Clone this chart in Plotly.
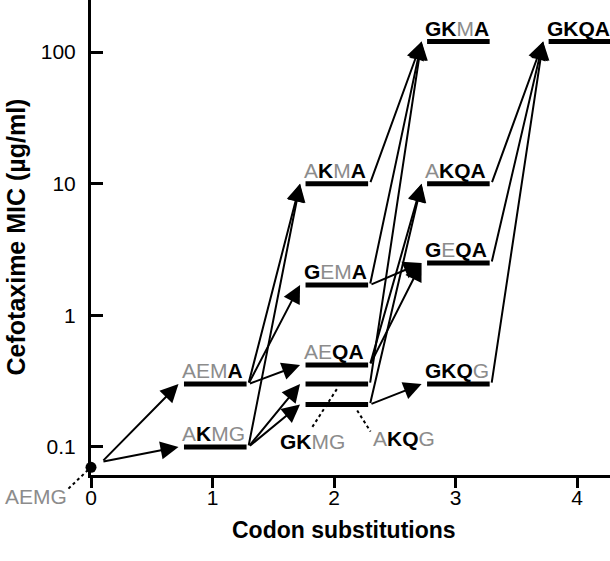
import math
import plotly.graph_objects as go

# ---------------- data ----------------
genotypes = ["AEMG", "AEMA", "AKMG", "AKMA", "GEMA", "AEQA", "GKMG", "AKQG",
             "GKMA", "AKQA", "GEQA", "GKQG", "GKQA"]
substitutions = [0, 1, 1, 2, 2, 2, 2, 2, 3, 3, 3, 3, 4]
mic = [0.07, 0.3, 0.1, 10, 1.7, 0.42, 0.3, 0.21, 120, 10, 2.5, 0.3, 120]
wild_type = "AEMG"

edge_from = ["AEMG", "AEMG",
             "AEMA", "AEMA", "AEMA", "AKMG", "AKMG", "AKMG",
             "AKMA", "GEMA", "GKMG", "GEMA", "AEQA", "AEQA", "AKQG", "AKQG",
             "AKQA", "GEQA", "GKQG"]
edge_to = ["AEMA", "AKMG",
           "AKMA", "GEMA", "AEQA", "AKMA", "GKMG", "AKQG",
           "GKMA", "GKMA", "GKMA", "GEQA", "GEQA", "AKQA", "AKQA", "GKQG",
           "GKQA", "GKQA", "GKQA"]

x_ticks = [0, 1, 2, 3, 4]
y_ticks = [0.1, 1, 10, 100]
y_tick_text = ["0.1", "1", "10", "100"]

# labels drawn below their bar with a dotted leader
below_labels = ["GKMG", "AKQG"]

# ---------------- style ----------------
GREY = "#8c8c8c"
FONT = "Liberation Sans, Arial, Helvetica, sans-serif"
BAR_L, BAR_R = -0.235, 0.28
TIP_GAP, TAIL_GAP = 0.045, 0.015
XR = [0, 4.27]
YR = [math.log10(0.0612), 2.395]

idx = {g: i for i, g in enumerate(genotypes)}


def styled(g):
    out = ""
    for i, c in enumerate(g):
        if c == wild_type[i]:
            out += f'<span style="color:{GREY}">{c}</span>'
        else:
            out += f"<b>{c}</b>"
    return out


fig = go.Figure()

# bars
bx, by = [], []
for g, n, v in zip(genotypes, substitutions, mic):
    if n == 0:
        continue
    bx += [n + BAR_L, n + BAR_R, None]
    by += [v, v, None]
fig.add_trace(go.Scatter(x=bx, y=by, mode="lines",
                         line=dict(color="black", width=5),
                         hoverinfo="skip", showlegend=False))

# starting genotype dot
i0 = idx[wild_type]
fig.add_trace(go.Scatter(x=[substitutions[i0]], y=[mic[i0]], mode="markers",
                         marker=dict(color="black", size=11),
                         cliponaxis=False, hoverinfo="skip", showlegend=False))

annotations = []

# arrows
for s, t in zip(edge_from, edge_to):
    si, ti = idx[s], idx[t]
    if substitutions[si] == 0:
        tx, ty = substitutions[si] + 0.09, mic[si] * 1.1
    else:
        tx, ty = substitutions[si] + BAR_R + TAIL_GAP, mic[si]
    hx, hy = substitutions[ti] + BAR_L - TIP_GAP, mic[ti]
    annotations.append(dict(x=hx, y=math.log10(hy), ax=tx, ay=math.log10(ty),
                            xref="x", yref="y", axref="x", ayref="y",
                            text="", showarrow=True, arrowhead=2,
                            arrowsize=1.8, arrowwidth=2, arrowcolor="black",
                            standoff=0, startstandoff=0))

# labels above bars
for g, n, v in zip(genotypes, substitutions, mic):
    if n == 0 or g in below_labels:
        continue
    annotations.append(dict(x=n + BAR_L, y=math.log10(v), xref="x", yref="y",
                            text=styled(g), showarrow=False,
                            xanchor="left", yanchor="bottom",
                            xshift=-4, yshift=0,
                            font=dict(family=FONT, size=21, color="black")))

# dotted leaders for labels below bars
leaders = {"GKMG": ((0.0225, 0.916), (-0.18, 0.471)),
           "AKQG": ((0.19, 0.90), (0.30, 0.623))}
for g in below_labels:
    i = idx[g]
    n, v = substitutions[i], mic[i]
    (dx0, f0), (dx1, f1) = leaders[g]
    fig.add_trace(go.Scatter(x=[n + dx0, n + dx1], y=[v * f0, v * f1],
                             mode="lines",
                             line=dict(color="black", width=2, dash="dot"),
                             hoverinfo="skip", showlegend=False))
    if g == "GKMG":
        annotations.append(dict(x=n + dx1, y=math.log10(v * f1), xref="x", yref="y",
                                text=styled(g), showarrow=False,
                                xanchor="center", yanchor="top", yshift=-1,
                                font=dict(family=FONT, size=21, color="black")))
    else:
        annotations.append(dict(x=n + dx1, y=math.log10(v * f1), xref="x", yref="y",
                                text=styled(g), showarrow=False,
                                xanchor="left", yanchor="middle", yshift=-7,
                                font=dict(family=FONT, size=21, color="black")))

# wild-type label (outside the plot area) with dotted leader
W, H = 519, 475
fig.add_shape(type="line", xref="paper", yref="paper",
              x0=(88 - 91) / W, y0=(475 - 470) / H,
              x1=(67 - 91) / W, y1=(475 - 490) / H,
              line=dict(color="black", width=2, dash="dot"))
annotations.append(dict(x=0, y=0, xref="paper", yref="paper",
                        text=f'<span style="color:{GREY}">{wild_type}</span>',
                        showarrow=False, xanchor="right", yanchor="middle",
                        xshift=-22, yshift=-21,
                        font=dict(family=FONT, size=21, color=GREY)))

# axis titles
annotations.append(dict(x=0.5, y=0, xref="paper", yref="paper",
                        text="<b>Codon substitutions</b>", showarrow=False,
                        xanchor="center", yanchor="middle", yshift=-55, xshift=-7,
                        font=dict(family=FONT, size=23, color="black")))
annotations.append(dict(x=0, y=0.5, xref="paper", yref="paper",
                        text="<b>Cefotaxime MIC (µg/ml)</b>", showarrow=False,
                        textangle=-90, xanchor="center", yanchor="middle",
                        xshift=-76,
                        font=dict(family=FONT, size=25, color="black")))

fig.update_layout(
    width=610, height=561,
    margin=dict(l=91, r=0, t=0, b=86),
    paper_bgcolor="white", plot_bgcolor="white",
    annotations=annotations,
    showlegend=False,
    xaxis=dict(range=XR, showline=True, linewidth=3, linecolor="black",
               ticks="outside", ticklen=10, tickwidth=3, tickcolor="black",
               tickvals=x_ticks, showgrid=False, zeroline=False,
               ticklabelstandoff=-8,
               tickfont=dict(family=FONT, size=21, color="black")),
    yaxis=dict(type="log", range=YR, showline=True, linewidth=3, linecolor="black",
               ticks="inside", ticklen=12, tickwidth=3, tickcolor="black",
               tickvals=y_ticks, ticktext=y_tick_text, showgrid=False,
               zeroline=False, ticklabelstandoff=8,
               tickfont=dict(family=FONT, size=21, color="black")),
)

fig.write_html("out.html", config={"displayModeBar": False},
               post_script="document.body.style.margin='0';document.body.style.overflow='hidden';")
